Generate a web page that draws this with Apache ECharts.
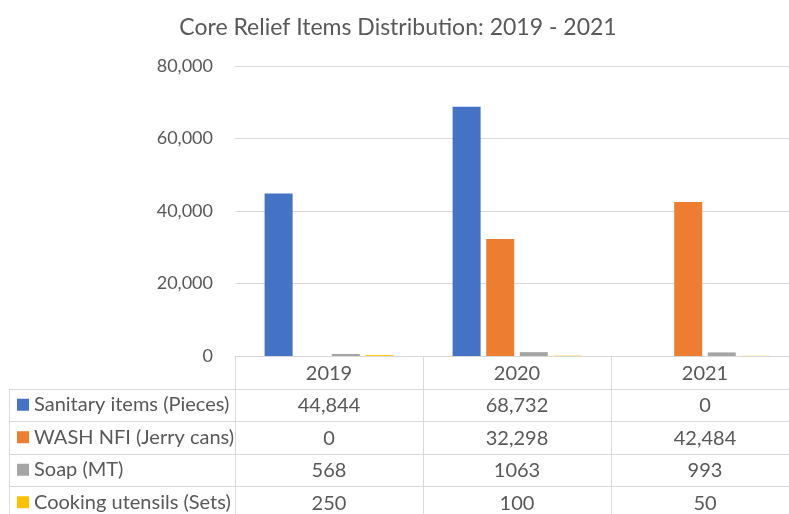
<!DOCTYPE html>
<html><head><meta charset="utf-8">
<script src="https://cdn.jsdelivr.net/npm/echarts@6/dist/echarts.min.js"></script>
<style>html,body{margin:0;padding:0;background:#fff}#c{width:789px;height:514px}</style>
</head><body><div id="c"></div>
<script>
const titleText = 'Core Relief Items Distribution: 2019 - 2021';
const years = ['2019', '2020', '2021'];
const seriesNames = ['Sanitary items (Pieces)', 'WASH NFI (Jerry cans)', 'Soap (MT)', 'Cooking utensils (Sets)'];
const sanitary = [44844, 68732, 0];
const washNfi = [0, 32298, 42484];
const soap = [568, 1063, 993];
const cooking = [250, 100, 50];
const yTicks = [0, 20000, 40000, 60000, 80000];

const allSeries = [sanitary, washNfi, soap, cooking];
const colors = ['#4472C4', '#ED7D31', '#A5A5A5', '#FFC000'];
const useComma = [true, true, false, false];
const fmt = (v, i) => useComma[i] ? v.toLocaleString('en-US') : String(v);
const FONT = 'Lato';
const TXT = '#595959';
const LINE = '#D9D9D9';
const ROW_H = 32.5;
const GRID_TOP = 66, GRID_H = 290, GRID_LEFT = 235;
const axisY = GRID_TOP + GRID_H;

const chart = echarts.init(document.getElementById('c'), null, {renderer: 'canvas'});

const graphics = [];
for (let r = 1; r <= 4; r++) {
  const y = Math.round(axisY + r * ROW_H) + 0.5;
  graphics.push({type: 'line', shape: {x1: 9, y1: y, x2: 789, y2: y}, style: {stroke: LINE, lineWidth: 1}, silent: true});
}
graphics.push({type: 'line', shape: {x1: 9.5, y1: Math.round(axisY + ROW_H) + 0.5, x2: 9.5, y2: 514}, style: {stroke: LINE, lineWidth: 1}, silent: true});

chart.setOption({
  animation: false,
  color: colors,
  textStyle: {fontFamily: FONT},
  title: {
    text: titleText, left: 393, textAlign: 'center', top: 11,
    textStyle: {fontFamily: FONT, fontSize: 23, fontWeight: 'normal', color: TXT}
  },
  legend: {
    data: seriesNames, orient: 'vertical', left: 17, top: axisY + ROW_H, height: 200, padding: 0, itemGap: 0,
    icon: 'rect', itemWidth: 12, itemHeight: 12,
    textStyle: {fontFamily: FONT, fontSize: 20, color: TXT, lineHeight: ROW_H}
  },
  grid: {left: GRID_LEFT, top: GRID_TOP, width: 564, height: GRID_H, containLabel: false, outerBoundsMode: 'none'},
  xAxis: {
    type: 'category', data: years,
    axisLine: {show: true, lineStyle: {color: LINE, width: 1}},
    axisTick: {show: true, length: 160, lineStyle: {color: LINE, width: 1}},
    axisLabel: {
      interval: 0, margin: 1, fontFamily: FONT, fontSize: 20, color: TXT, lineHeight: ROW_H,
      formatter: (val, idx) => [val].concat(allSeries.map((s, i) => fmt(s[idx], i))).join('\n')
    }
  },
  yAxis: {
    type: 'value', min: yTicks[0], max: yTicks[yTicks.length - 1], interval: yTicks[1] - yTicks[0],
    axisLine: {show: false}, axisTick: {show: false},
    splitLine: {lineStyle: {color: LINE, width: 1}},
    axisLabel: {margin: 22, fontFamily: FONT, fontSize: 18, color: TXT, formatter: v => v.toLocaleString('en-US')}
  },
  series: allSeries.map((d, i) => ({
    name: seriesNames[i], type: 'bar', data: d, barWidth: 28, barGap: '20%'
  })),
  graphic: graphics
});
</script></body></html>
